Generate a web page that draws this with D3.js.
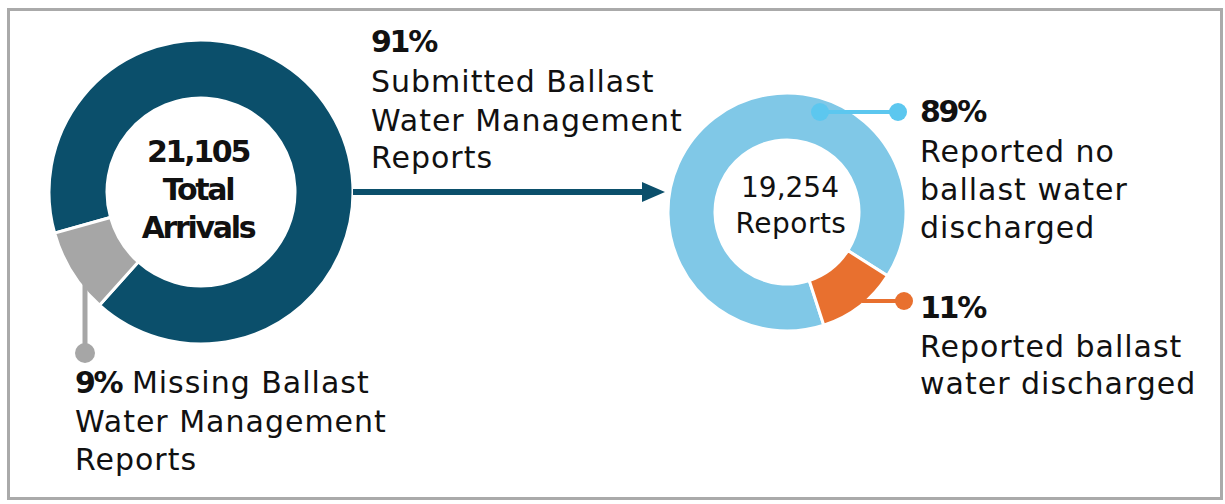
<!DOCTYPE html>
<html>
<head>
<meta charset="utf-8">
<script src="https://cdn.jsdelivr.net/npm/d3@7"></script>
<style>
  html, body { margin: 0; padding: 0; background: #fff; }
  text { font-family: "DejaVu Sans", sans-serif; fill: #111; }
</style>
</head>
<body>
<div id="vizDiv"></div>
<script>
var width = 1225;
var height = 504;

// data
var arrivalCategories = ["Submitted Ballast Water Management Reports", "Missing Ballast Water Management Reports"];
var arrivalShares = [91, 9];
var totalArrivals = 21105;

var reportCategories = ["Reported no ballast water discharged", "Reported ballast water discharged"];
var reportShares = [89, 11];
var totalReports = 19254;

var arrivalColors = ["#0b4f6b", "#a6a6a6"];
var reportColors = ["#80c8e7", "#e8702f"];
var leaderColors = ["#5cc7ef", "#e8702f"];

var fmt = d3.format(",");
var deg = Math.PI / 180;

var svg = d3.select("#vizDiv")
  .append("svg")
  .attr("width", width)
  .attr("height", height);

// frame
svg.append("rect")
  .attr("x", 8.5).attr("y", 9.5)
  .attr("width", 1213).attr("height", 489)
  .attr("fill", "none")
  .attr("stroke", "#aaaaaa")
  .attr("stroke-width", 3);

// left donut
var left = { cx: 201, cy: 192, rOut: 152, rIn: 94, start: -105.7 * deg };
var leftPie = d3.pie().sort(null)
  .startAngle(left.start).endAngle(left.start + 2 * Math.PI);
var leftArc = d3.arc().innerRadius(left.rIn).outerRadius(left.rOut);
var leftArcs = leftPie(arrivalShares);

var gLeft = svg.append("g").attr("transform", "translate(" + left.cx + "," + left.cy + ")");
gLeft.selectAll("path")
  .data(leftArcs)
  .enter().append("path")
  .attr("d", leftArc)
  .attr("fill", function(d, i) { return arrivalColors[i]; })
  .attr("stroke", "#fff")
  .attr("stroke-width", 3);

// right donut
var right = { cx: 787, cy: 212, rOut: 119, rIn: 72, start: 162 * deg };
var rightPie = d3.pie().sort(null)
  .startAngle(right.start).endAngle(right.start + 2 * Math.PI);
var rightArc = d3.arc().innerRadius(right.rIn).outerRadius(right.rOut);
var rightArcs = rightPie(reportShares);

var gRight = svg.append("g").attr("transform", "translate(" + right.cx + "," + right.cy + ")");
gRight.selectAll("path")
  .data(rightArcs)
  .enter().append("path")
  .attr("d", rightArc)
  .attr("fill", function(d, i) { return reportColors[i]; })
  .attr("stroke", "#fff")
  .attr("stroke-width", 3);

// arrow between donuts
var arrowY = left.cy;
var arrowStart = left.cx + left.rOut;
var arrowTip = right.cx - right.rOut - 3;
svg.append("line")
  .attr("x1", arrowStart).attr("x2", arrowTip - 18)
  .attr("y1", arrowY).attr("y2", arrowY)
  .attr("stroke", arrivalColors[0])
  .attr("stroke-width", 6);
svg.append("path")
  .attr("d", d3.line()([[arrowTip - 23, arrowY - 10], [arrowTip, arrowY], [arrowTip - 23, arrowY + 10]]) + "Z")
  .attr("fill", arrivalColors[0]);

// leader: missing reports (grey)
var greyX = 85;
svg.append("line")
  .attr("x1", greyX).attr("x2", greyX)
  .attr("y1", 280).attr("y2", 353)
  .attr("stroke", arrivalColors[1])
  .attr("stroke-width", 5);
svg.append("circle")
  .attr("cx", greyX).attr("cy", 353).attr("r", 10)
  .attr("fill", arrivalColors[1]);

// leader: no discharge (blue)
svg.append("line")
  .attr("x1", 820).attr("x2", 898)
  .attr("y1", 112).attr("y2", 112)
  .attr("stroke", leaderColors[0])
  .attr("stroke-width", 4);
svg.append("circle").attr("cx", 820).attr("cy", 112).attr("r", 9).attr("fill", leaderColors[0]);
svg.append("circle").attr("cx", 898).attr("cy", 112).attr("r", 9).attr("fill", leaderColors[0]);

// leader: discharged (orange)
svg.append("line")
  .attr("x1", 862).attr("x2", 904)
  .attr("y1", 301).attr("y2", 301)
  .attr("stroke", leaderColors[1])
  .attr("stroke-width", 4);
svg.append("circle").attr("cx", 904).attr("cy", 301).attr("r", 9).attr("fill", leaderColors[1]);

// text helpers
function boldLine(x, y, txt, anchor) {
  return svg.append("text")
    .attr("x", x).attr("y", y)
    .attr("text-anchor", anchor || "start")
    .style("font-size", "30px")
    .style("font-weight", "bold")
    .style("letter-spacing", "-2.3px")
    .text(txt);
}
function plainLine(x, y, txt) {
  return svg.append("text")
    .attr("x", x).attr("y", y)
    .style("font-size", "30px")
    .style("letter-spacing", "1px")
    .text(txt);
}

// centre labels
boldLine(198, 162, fmt(totalArrivals), "middle");
boldLine(198, 200, "Total", "middle");
boldLine(198, 238, "Arrivals", "middle");

svg.append("text")
  .attr("x", 790).attr("y", 197)
  .attr("text-anchor", "middle")
  .style("font-size", "28px")
  .text(fmt(totalReports));
svg.append("text")
  .attr("x", 791).attr("y", 233)
  .attr("text-anchor", "middle")
  .style("font-size", "28px")
  .style("letter-spacing", "0.5px")
  .text("Reports");

// submitted block
boldLine(371, 52, arrivalShares[0] + "%");
plainLine(371, 92, "Submitted Ballast");
plainLine(371, 131, "Water Management");
plainLine(371, 168, "Reports");

// missing block
var miss = svg.append("text")
  .attr("x", 75).attr("y", 393)
  .style("font-size", "30px")
  .style("letter-spacing", "1px");
miss.append("tspan")
  .style("font-weight", "bold")
  .style("letter-spacing", "-2.3px")
  .text(arrivalShares[1] + "%");
miss.append("tspan").text(" Missing Ballast");
plainLine(75, 432, "Water Management");
plainLine(75, 470, "Reports");

// right blocks
boldLine(920, 122, reportShares[0] + "%");
plainLine(920, 162, "Reported no");
plainLine(920, 200, "ballast water");
plainLine(920, 238, "discharged");

boldLine(920, 318, reportShares[1] + "%");
plainLine(920, 357, "Reported ballast");
plainLine(920, 394, "water discharged");
</script>
</body>
</html>
